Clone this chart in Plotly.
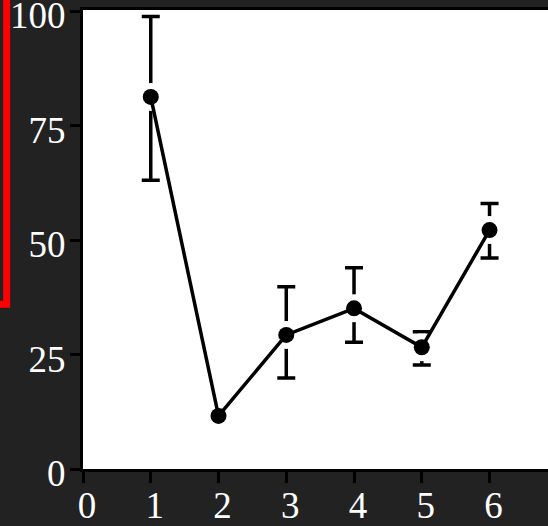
import plotly.graph_objects as go

x_vals = [1, 2, 3, 4, 5, 6]
y_vals = [81.3, 11.6, 29.3, 35.1, 26.6, 52.2]
err_plus = [17.6, 0.0, 10.5, 8.9, 3.4, 5.8]
err_minus = [18.2, 0.0, 9.4, 7.4, 3.9, 6.1]
x_ticks = [0, 1, 2, 3, 4, 5, 6]
y_ticks = [0, 25, 50, 75, 100]

W, H = 548, 526
L, R, T, B = 82.7, 0, 9.5, 57
BG = "#222222"
FONT = dict(family="Liberation Serif, Times New Roman, serif", size=37, color="white")

fig = go.Figure()
# error bars with white halo markers (creates gap around points)
fig.add_trace(go.Scatter(
    x=x_vals, y=y_vals, mode="markers",
    marker=dict(size=28, color="white", line=dict(width=0)),
    error_y=dict(type="data", symmetric=False, array=err_plus, arrayminus=err_minus,
                 color="black", thickness=3.5, width=9),
    showlegend=False, hoverinfo="skip", cliponaxis=False,
))
fig.add_trace(go.Scatter(
    x=x_vals, y=y_vals, mode="lines+markers",
    line=dict(color="black", width=3.5),
    marker=dict(size=16, color="black"),
    showlegend=False, cliponaxis=False,
))

pw = W - L - R
ph = H - T - B
def px_x(p):
    return (p - L) / pw
def px_y(p):
    return (H - B - p) / ph

fig.add_shape(type="rect", xref="paper", yref="paper",
              x0=px_x(-40), x1=px_x(6.3), y0=px_y(304), y1=px_y(-40),
              line=dict(color="#ff0000", width=7), fillcolor="rgba(0,0,0,0)")

fig.update_layout(
    width=W, height=H,
    margin=dict(l=L, r=R, t=T, b=B, pad=0, autoexpand=False),
    paper_bgcolor=BG, plot_bgcolor="white",
    font=FONT,
    xaxis=dict(range=[0, (W - L) / 67.8], tickvals=x_ticks, ticktext=[str(v) for v in x_ticks],
               showgrid=False, zeroline=False, showline=True, linecolor="black", linewidth=3,
               mirror=True, ticks="outside", ticklen=11, tickwidth=3, tickcolor="black",
               tickfont=FONT, ticklabelshift=4, ticklabelstandoff=-9,
               ticklabeloverflow="allow", automargin=False),
    yaxis=dict(range=[0, 100.3], tickvals=y_ticks, ticktext=[str(v) for v in y_ticks],
               showgrid=False, zeroline=False, showline=True, linecolor="black", linewidth=3,
               mirror=False, ticks="outside", ticklen=10, tickwidth=3, tickcolor="black",
               tickfont=FONT, ticklabelstandoff=-3, ticklabelshift=4,
               ticklabeloverflow="allow", automargin=False),
)

fig.write_html("out.html")
